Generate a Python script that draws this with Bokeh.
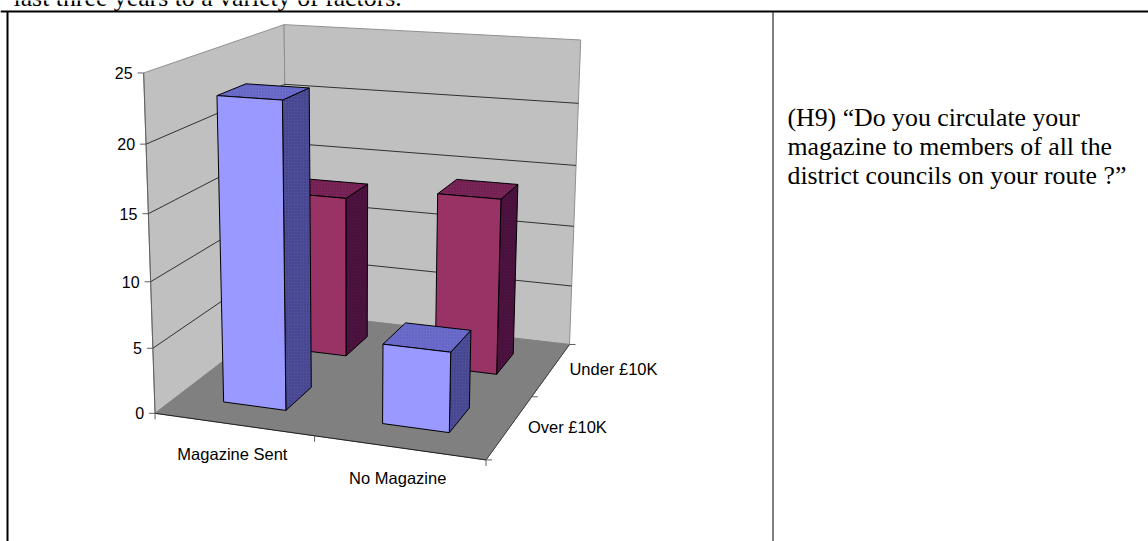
import numpy as np
from bokeh.plotting import figure
from bokeh.embed import file_html
from bokeh.resources import INLINE
from bokeh.core.properties import value

# ---- data
categories = ["Magazine Sent", "No Magazine"]
series_names = ["Over £10K", "Under £10K"]
over_values = [23, 6]
under_values = [13, 14]
value_ticks = [0, 5, 10, 15, 20, 25]
top_line = "last three years to a variety of factors."
side_lines = ["(H9) “Do you circulate your", "magazine to members of all the", "district councils on your route ?”"]

# ---- projection fitted to the drawn box: (category, value, depth) -> page pixels
anchors = [
    ((0, 0, 0), (155.7, 412.7)), ((1, 0, 0), (314, 436.7)), ((2, 0, 0), (485, 459.3)),
    ((2, 0, 2), (569.3, 343.3)), ((2, 0, 1), (531.5, 396)), ((0, 0, 2), (286, 312)),
    ((0, 25, 0), (143, 73)), ((0, 25, 2), (284, 24)), ((2, 25, 2), (580.3, 39.3)),
    ((0, 5, 0), (152.3, 347.3)), ((0, 10, 0), (150, 281)), ((0, 15, 0), (147.7, 212.7)),
    ((0, 20, 0), (145.3, 143.3)), ((2, 20, 2), (577.7, 103.3)), ((2, 15, 2), (575.7, 165)),
    ((2, 10, 2), (573.3, 225.7)), ((2, 5, 2), (571, 285.7)), ((0, 20, 2), (284.3, 84)),
]
A, b = [], []
for (X, Y, Z), (u, v) in anchors:
    A.append([X, Y, Z, 1, 0, 0, 0, 0, -u * X, -u * Y, -u * Z]); b.append(u)
    A.append([0, 0, 0, 0, X, Y, Z, 1, -v * X, -v * Y, -v * Z]); b.append(v)
M = np.append(np.linalg.lstsq(np.array(A, float), np.array(b, float), rcond=None)[0], 1).reshape(3, 4)


def proj(x, y, z):
    q = M @ np.array([x, y, z, 1.0])
    return q[0] / q[2], q[1] / q[2]


p = figure(width=1148, height=541, x_range=(0, 1148), y_range=(541, 0), output_backend="svg",
           toolbar_location=None, min_border=0, outline_line_color=None, margin=(0, 0, 0, 0),
           background_fill_color="white", border_fill_color="white")
p.axis.visible = False
p.grid.visible = False


def face(pts, fill, line="black", w=1.0, hatch=None):
    xy = [proj(*q) for q in pts]
    kw = dict(hatch_pattern="dot", hatch_scale=3, hatch_color=hatch, hatch_alpha=0.6) if hatch else {}
    p.patch([a for a, _ in xy], [c for _, c in xy], fill_color=fill, line_color=line, line_width=w, **kw)


def seg(a, b_, color, w=1.0):
    ax, ay = a
    bx, by = b_
    p.line([ax, bx], [ay, by], line_color=color, line_width=w)


WALL, FLOOR, EDGE = "#C0C0C0", "#808080", "#909090"
SANS = value("Liberation Sans")
SERIF = value("Liberation Serif")
TOP = value_ticks[-1]
face([(0, 0, 0), (0, TOP, 0), (0, TOP, 2), (0, 0, 2)], WALL, EDGE)
face([(0, 0, 2), (0, TOP, 2), (2, TOP, 2), (2, 0, 2)], WALL, EDGE)
face([(0, 0, 0), (0, 0, 2), (2, 0, 2), (2, 0, 0)], FLOOR, FLOOR)
seg(proj(0, 0, 0), proj(0, TOP, 0), "#606060")

for t in value_ticks[1:-1]:
    seg(proj(0, t, 0), proj(0, t, 2), "#303030")
    seg(proj(0, t, 2), proj(2, t, 2), "#303030")
seg(proj(0, 0, 0), proj(2, 0, 0), "#202020")
seg(proj(2, 0, 0), proj(2, 0, 2), "#404040")

# ticks
for t in value_ticks:
    x, y = proj(0, t, 0)
    seg((x - 6, y), (x, y), "#606060")
    p.text([x - 11], [y], text=[str(t)], text_font=SANS, text_font_size="16px",
           text_align="right", text_baseline="middle", text_color="black")
for i in range(3):
    x, y = proj(i, 0, 0)
    seg((x, y), (x, y + 6), "#606060")
    x, y = proj(2, 0, i)
    seg((x, y), (x + 6, y), "#606060")
for i, c in enumerate(categories):
    x, y = proj(i + 0.5, 0, 0)
    p.text([x - 1], [y + 30], text=[c], text_font=SANS, text_font_size="16.5px",
           text_align="center", text_baseline="middle", text_color="black")
for i, s in enumerate(series_names):
    x, y = proj(2, 0, i + 0.5)
    p.text([x + 18], [y + 0], text=[s], text_font=SANS, text_font_size="16.5px",
           text_align="left", text_baseline="middle", text_color="black")

LO, HI = 0.3, 0.7


def bar(cat, depth, v, front, topc, side):
    x0, x1 = cat + LO, cat + HI
    z0, z1 = depth + LO, depth + HI
    face([(x1, 0, z0), (x1, v, z0), (x1, v, z1), (x1, 0, z1)], side[0], hatch=side[1])
    face([(x0, v, z0), (x0, v, z1), (x1, v, z1), (x1, v, z0)], topc[0], hatch=topc[1])
    face([(x0, 0, z0), (x0, v, z0), (x1, v, z0), (x1, 0, z0)], front)


for depth, vals, cols in [(1, under_values, ("#993366", ("#7A2458", "#4E1240"), ("#4E1240", "#2C0A24"))),
                          (0, over_values, ("#9999FF", ("#6C6CCF", "#4D4D99"), ("#4D4D99", "#2C2C66")))]:
    for cat, v in enumerate(vals):
        bar(cat, depth, v, *cols)

# surrounding document table and text
p.line([0, 1148], [11, 11], line_color="black", line_width=2)
p.line([7, 7], [11, 541], line_color="black", line_width=2)
p.line([772.5, 772.5], [11, 541], line_color="black", line_width=1)
p.text([13], [-3.5], text=[top_line], text_font=SERIF, text_font_size="25.8px",
       text_baseline="alphabetic", text_color="black")
for i, s in enumerate(side_lines):
    p.text([787], [116.5 + i * 29.2], text=[s], text_font=SERIF, text_font_size="25.8px",
           text_baseline="alphabetic", text_color="black")

open("out.html", "w").write(file_html(p, INLINE))
